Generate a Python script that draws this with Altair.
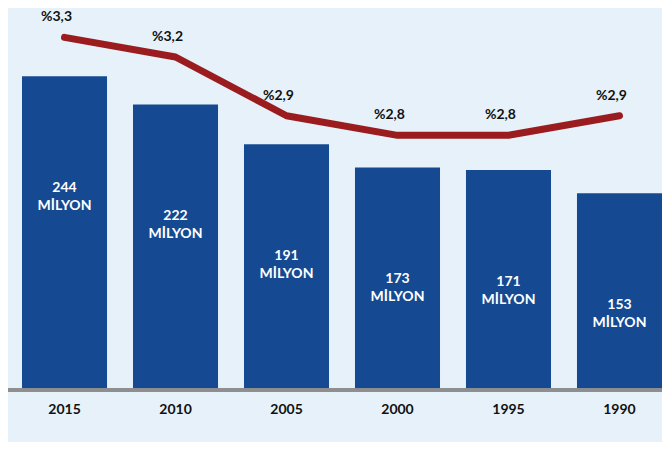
import altair as alt
import pandas as pd

years = ["2015", "2010", "2005", "2000", "1995", "1990"]
population = [244, 222, 191, 173, 171, 153]
rate = [3.3, 3.2, 2.9, 2.8, 2.8, 2.9]

df = pd.DataFrame({
    "year": years,
    "pop": population,
    "rate": rate,
    "popl": [f"{p}\nMİLYON" for p in population],
    "ratel": ["%" + str(r).replace(".", ",") for r in rate],
})

FONT = "Lato"
W, H = 654, 382

x = alt.X(
    "year:N", sort=years, title=None,
    scale=alt.Scale(paddingInner=0.234, paddingOuter=0, range=[14, 654]),
    axis=alt.Axis(labelAngle=0, labelFont=FONT, labelFontWeight="bold",
                  labelFontSize=14, labelColor="#111111", labelPadding=12,
                  ticks=False, domain=False, grid=False),
)
bar_scale = alt.Scale(domain=[0, 297], nice=False, zero=True)
ybar = alt.Y("pop:Q", scale=bar_scale, axis=None)
yline = alt.Y("rate:Q", scale=alt.Scale(domain=[1.5, 3.45], nice=False, zero=False), axis=None)

bars = alt.Chart(df).mark_bar(color="#154a93").encode(x=x, y=ybar)
bar_text = alt.Chart(df).mark_text(
    color="white", font=FONT, fontWeight="bold", fontSize=14, lineBreak="\n",
    baseline="top", dy=105, lineHeight=18,
).encode(x=x, y=ybar, text="popl:N")
baseline = alt.Chart(df).mark_rule(color="#8c8e90", strokeWidth=3).encode(
    x=alt.value(0), x2=alt.value(W), y=alt.value(H)
)

line = alt.Chart(df).mark_line(
    color="#9b1c1f", strokeWidth=7, strokeCap="round", strokeJoin="round"
).encode(x=x, y=yline)
pct = alt.Chart(df).mark_text(
    color="#111111", font=FONT, fontWeight="bold", fontSize=14, dy=-20, dx=-8,
).encode(x=x, y=yline, text="ratel:N")

bar_layer = alt.layer(bars, bar_text, baseline)
line_layer = alt.layer(line, pct)

chart = (
    alt.layer(bar_layer, line_layer)
    .resolve_scale(y="independent")
    .properties(
        width=W, height=H, background="#e6f1fa",
        padding={"left": 0, "right": 0, "top": 0, "bottom": 52},
        autosize=alt.AutoSizeParams(type="none"),
    )
    .configure_view(stroke=None)
)

chart.save("out.html", embed_options={"renderer": "svg", "actions": False})
